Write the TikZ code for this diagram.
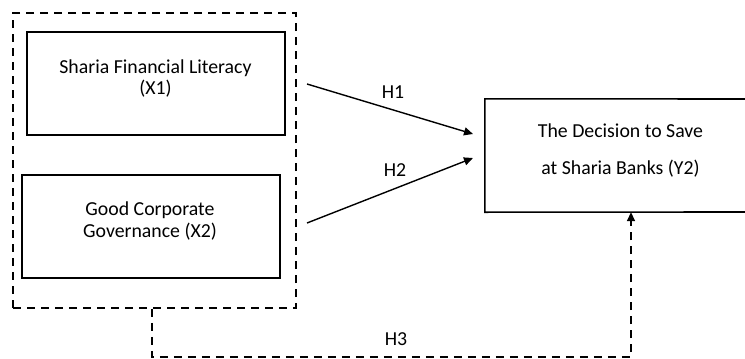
\documentclass[tikz,border=0pt]{standalone}
\usepackage{fontspec}
\setmainfont{Carlito}
\usetikzlibrary{arrows.meta}
\begin{document}
\begin{tikzpicture}[x=1pt,y=-1pt,
  font=\fontsize{19.8}{21}\selectfont,
  solidbox/.style={draw=black, line width=1.6pt, inner sep=0pt},
  dashbox/.style={draw=black, line width=1.6pt, dash pattern=on 8pt off 6pt, inner sep=0pt},
  dashline/.style={line width=1.6pt, dash pattern=on 8pt off 6pt},
  txt/.style={align=center, inner sep=0pt},
  arr/.style={line width=1.4pt, -{Triangle[length=9pt,width=8pt]}},
]
\useasboundingbox[fill=white] (0,0) rectangle (745,359);

% dashed group box
\node[dashbox, minimum width=283pt, minimum height=295pt] (grp) at (154.5,160.5) {};
% X1 and X2 boxes
\node[solidbox, minimum width=258pt, minimum height=103pt] (x1) at (156,83.5) {};
\node[solidbox, minimum width=258pt, minimum height=103pt] (x2) at (151,226.5) {};
\node[txt] (x1t) at (155.5,78.5) {Sharia Financial Literacy\\(X1)};
\node[txt, font=\fontsize{19.8}{22}\selectfont] (x2t) at (150,221) {Good Corporate\\Governance (X2)};

% Y box (right edge outside the picture)
\node[inner sep=0pt, minimum width=270pt, minimum height=113pt] (y) at (620,155.5) {};
\coordinate (ytr) at (745,99);
\coordinate (ybr) at (745,212);
\draw[line width=1.6pt] (ytr) -- (y.north west) -- (y.south west) -- (ybr);
\node[txt, font=\fontsize{19.8}{37}\selectfont] (yt) at (620.5,150) {The Decision to Save\\at Sharia Banks (Y2)};

% H1, H2 arrows
\coordinate (h1s) at (307,84);
\coordinate (h1e) at (473,134);
\coordinate (h2s) at (307,223);
\coordinate (h2e) at (473,158);
\draw[arr] (h1s) -- (h1e);
\draw[arr] (h2s) -- (h2e);
\node[txt] (h1) at (393,92) {H1};
\node[txt] (h2) at (395,170) {H2};

% H3 dashed connector
\coordinate (h3a) at (152,357);
\coordinate (h3b) at (631,357);
\draw[dashline, -{Triangle[length=9pt,width=8pt]}] (grp.south -| h3a) -- (h3a) -- (h3b) -- (y.south -| h3b);
\node[txt] (h3) at (396,339) {H3};
\end{tikzpicture}
\end{document}
